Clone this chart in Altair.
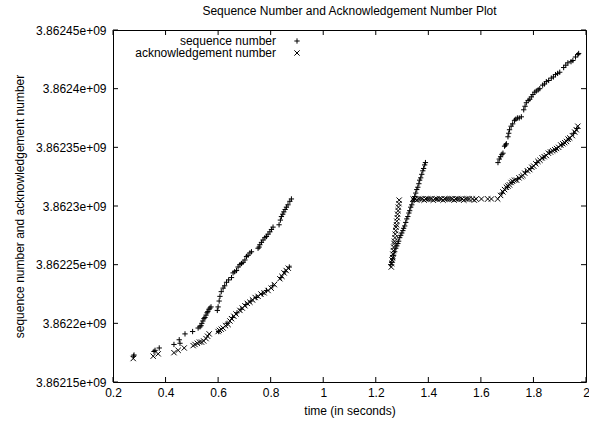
import altair as alt
import pandas as pd

# ---- data ----
seq_time = [
    0.278, 0.280, 0.356, 0.360, 0.376, 0.432, 0.452, 0.455, 0.474, 0.503, 0.524,
    0.531, 0.535, 0.538, 0.542, 0.546, 0.550, 0.554, 0.558, 0.561, 0.565, 0.569, 0.573,
    0.597, 0.600, 0.604, 0.607, 0.612, 0.619, 0.625, 0.632, 0.640, 0.651, 0.657, 0.663,
    0.670, 0.676, 0.683, 0.689, 0.695, 0.702, 0.708, 0.714, 0.721, 0.727,
    0.752, 0.756, 0.759, 0.765, 0.771, 0.778, 0.784, 0.790, 0.797, 0.803, 0.809,
    0.832, 0.837, 0.841, 0.846, 0.850, 0.855, 0.860, 0.866, 0.873, 0.879,
    0.602, 0.634, 0.655, 0.672, 0.687, 0.706, 0.725, 0.745, 0.768, 0.784, 0.808, 0.839, 0.855, 0.871,
    1.257, 1.261, 1.265, 1.268, 1.272, 1.276, 1.280, 1.284, 1.287, 1.291, 1.295, 1.299,
    1.303, 1.306, 1.310, 1.314, 1.318, 1.322, 1.326, 1.329, 1.333, 1.337, 1.341, 1.345,
    1.348, 1.352, 1.356, 1.360, 1.364, 1.367, 1.371, 1.375, 1.379, 1.382, 1.386, 1.389,
    1.665, 1.670, 1.675, 1.680, 1.684, 1.690, 1.694, 1.697, 1.703, 1.706, 1.709, 1.715, 1.721, 1.728,
    1.733, 1.739, 1.746, 1.754, 1.763, 1.768, 1.773, 1.780, 1.786, 1.792, 1.798, 1.805, 1.811,
    1.818, 1.824, 1.835, 1.842, 1.849, 1.858, 1.868, 1.876, 1.884, 1.892, 1.900, 1.915, 1.923, 1.931,
    1.943, 1.950, 1.960, 1.969, 1.972,
    1.680, 1.700, 1.718, 1.740, 1.770, 1.790, 1.813, 1.837, 1.861, 1.885, 1.908, 1.935, 1.953, 1.966,
]
seq_value = [
    3862172, 3862173, 3862176, 3862177, 3862179, 3862182, 3862186, 3862183, 3862191, 3862193, 3862196,
    3862197, 3862198, 3862200, 3862202, 3862204, 3862205, 3862207, 3862209, 3862210, 3862212, 3862213, 3862214,
    3862211, 3862214, 3862219, 3862223, 3862227, 3862230, 3862232, 3862235, 3862237, 3862239, 3862243, 3862244,
    3862245, 3862248, 3862250, 3862251, 3862252, 3862254, 3862257, 3862258, 3862260, 3862261,
    3862264, 3862265, 3862267, 3862269, 3862271, 3862273, 3862274, 3862276, 3862278, 3862280, 3862282,
    3862284, 3862288, 3862291, 3862293, 3862295, 3862297, 3862299, 3862301, 3862304, 3862306,
    3862193, 3862200, 3862205, 3862209, 3862212, 3862216, 3862219, 3862222, 3862225, 3862228, 3862232, 3862239, 3862244, 3862248,
    3862250, 3862252, 3862255, 3862258, 3862261, 3862264, 3862266, 3862268, 3862270, 3862273, 3862275, 3862277,
    3862279, 3862281, 3862283, 3862286, 3862289, 3862291, 3862294, 3862296, 3862299, 3862301, 3862304, 3862306,
    3862308, 3862311, 3862314, 3862316, 3862319, 3862322, 3862324, 3862327, 3862330, 3862332, 3862335, 3862337,
    3862337, 3862340, 3862342, 3862344, 3862345, 3862351, 3862352, 3862353, 3862359, 3862362, 3862365, 3862368, 3862370, 3862373,
    3862374, 3862375, 3862375, 3862376, 3862382, 3862385, 3862388, 3862390, 3862391, 3862393, 3862395, 3862397, 3862398,
    3862399, 3862400, 3862403, 3862404, 3862406, 3862407, 3862409, 3862410, 3862412, 3862413, 3862414, 3862418, 3862420, 3862422,
    3862423, 3862424, 3862427, 3862429, 3862430,
    3862311, 3862316, 3862320, 3862323, 3862329, 3862332, 3862337, 3862341, 3862346, 3862348, 3862352, 3862357, 3862362, 3862366,
]

ack_time = [
    0.277, 0.353, 0.372, 0.432, 0.448, 0.471, 0.505, 0.512, 0.521, 0.529, 0.537, 0.545, 0.554, 0.560, 0.566,
    0.600, 0.605, 0.612, 0.619, 0.628, 0.638, 0.645, 0.651, 0.660, 0.668, 0.683, 0.692, 0.702, 0.711, 0.721,
    0.731, 0.741, 0.752, 0.763, 0.775, 0.790, 0.802, 0.814, 0.835, 0.843, 0.851, 0.859, 0.867,
    1.259, 1.261, 1.262, 1.264, 1.265, 1.267, 1.268, 1.270, 1.271, 1.273, 1.274, 1.276, 1.277, 1.279, 1.280,
    1.282, 1.283, 1.285, 1.286, 1.288, 1.289,
    1.342, 1.349, 1.356, 1.363, 1.370, 1.377, 1.384, 1.391, 1.398, 1.405, 1.412, 1.419, 1.426, 1.433, 1.442,
    1.449, 1.456, 1.463, 1.470, 1.477, 1.484, 1.491, 1.498, 1.505, 1.512, 1.519, 1.528, 1.535, 1.542, 1.549,
    1.556, 1.568, 1.575, 1.582, 1.602, 1.626, 1.640,
    1.664, 1.675, 1.684, 1.690, 1.697, 1.703, 1.709, 1.715, 1.721, 1.728, 1.736, 1.745, 1.754, 1.760, 1.767,
    1.777, 1.786, 1.794, 1.801, 1.809, 1.817, 1.825, 1.833, 1.841, 1.849, 1.857, 1.865, 1.873, 1.881, 1.888,
    1.896, 1.904, 1.912, 1.919, 1.926, 1.932, 1.938, 1.948, 1.957, 1.963, 1.969,
]
ack_value = [
    3862170, 3862172, 3862174, 3862175, 3862177, 3862179, 3862181, 3862182, 3862183, 3862184, 3862184, 3862185, 3862187, 3862189, 3862191,
    3862193, 3862194, 3862195, 3862196, 3862198, 3862199, 3862202, 3862204, 3862206, 3862208, 3862211, 3862213, 3862215, 3862217, 3862218,
    3862220, 3862222, 3862223, 3862225, 3862226, 3862228, 3862230, 3862233, 3862238, 3862240, 3862243, 3862245, 3862247,
    3862248, 3862251, 3862254, 3862256, 3862259, 3862262, 3862265, 3862268, 3862270, 3862273, 3862276, 3862279, 3862282, 3862284, 3862287,
    3862290, 3862293, 3862296, 3862299, 3862302, 3862305,
    3862306, 3862306, 3862305, 3862306, 3862306, 3862306, 3862305, 3862306, 3862306, 3862306, 3862306, 3862305, 3862306, 3862306, 3862306,
    3862306, 3862305, 3862306, 3862306, 3862306, 3862306, 3862306, 3862305, 3862306, 3862306, 3862306, 3862306, 3862305, 3862306, 3862306,
    3862306, 3862306, 3862305, 3862306, 3862306, 3862306, 3862306,
    3862306, 3862309, 3862312, 3862314, 3862316, 3862317, 3862318, 3862320, 3862321, 3862322, 3862322, 3862324, 3862325, 3862326, 3862328,
    3862330, 3862331, 3862333, 3862334, 3862336, 3862338, 3862339, 3862341, 3862342, 3862343, 3862345, 3862346, 3862347, 3862348, 3862349,
    3862350, 3862352, 3862353, 3862354, 3862355, 3862357, 3862358, 3862360, 3862363, 3862365, 3862368,
]

series_names = ["sequence number", "acknowledgement number"]
x_ticks = [0.2, 0.4, 0.6, 0.8, 1.0, 1.2, 1.4, 1.6, 1.8, 2.0]
y_ticks = [3862150000, 3862200000, 3862250000, 3862300000, 3862350000, 3862400000, 3862450000]

# values were read in thousands
df = pd.concat([
    pd.DataFrame({"t": seq_time, "v": [v * 1000 for v in seq_value], "s": series_names[0]}),
    pd.DataFrame({"t": ack_time, "v": [v * 1000 for v in ack_value], "s": series_names[1]}),
])

W, H = 473, 352
FONT = "Liberation Sans"
xscale = alt.Scale(domain=[0.2, 2.0], nice=False, zero=False)
yscale = alt.Scale(domain=[3862150000, 3862450000], nice=False, zero=False)

plus_path = "M-1,0L1,0M0,-1L0,1"
cross_path = "M-1,-1L1,1M-1,1L1,-1"

points = alt.Chart(df).mark_point(filled=False, strokeWidth=1, size=28, opacity=1).encode(
    x=alt.X("t:Q", scale=xscale,
            axis=alt.Axis(values=x_ticks, title="time (in seconds)", grid=False, domain=False,
                          ticks=False, tickSize=0, labelPadding=5, labelFont=FONT, labelFontSize=12,
                          labelColor="black", labelFlush=False, labelOverlap=False,
                          titleFont=FONT, titleFontSize=12, titleFontWeight="normal",
                          titleColor="black", titlePadding=7, labelExpr="format(datum.value, '~g')")),
    y=alt.Y("v:Q", scale=yscale,
            axis=alt.Axis(values=y_ticks, title="sequence number and acknowledgement number", grid=False,
                          domain=False, ticks=False, tickSize=0, labelPadding=7, labelFont=FONT,
                          labelFontSize=12, labelColor="black", labelFlush=False, labelOverlap=False,
                          titleFont=FONT, titleFontSize=12,
                          titleFontWeight="normal", titleColor="black", titlePadding=9,
                          labelExpr="replace(format(datum.value, '.6~e'), 'e+9', 'e+09')")),
    shape=alt.Shape("s:N", scale=alt.Scale(domain=series_names, range=[plus_path, cross_path]),
                    legend=alt.Legend(title=None, orient="none", legendX=178, legendY=5, padding=0,
                                      labelAlign="right", labelOffset={"expr": "-27"}, labelFont=FONT,
                                      labelFontSize=12, labelColor="black", symbolSize=28,
                                      symbolStrokeColor="black", symbolFillColor="transparent",
                                      symbolStrokeWidth=1, rowPadding=0, symbolOpacity=1)),
    color=alt.value("black"),
)

xt = pd.DataFrame({"t": x_ticks})
yt = pd.DataFrame({"v": y_ticks})
tick_bottom = alt.Chart(xt).mark_rule(color="black", strokeWidth=1).encode(
    x=alt.X("t:Q", scale=xscale), y=alt.value(H), y2=alt.value(H - 5))
tick_top = alt.Chart(xt).mark_rule(color="black", strokeWidth=1).encode(
    x=alt.X("t:Q", scale=xscale), y=alt.value(0), y2=alt.value(5))
tick_left = alt.Chart(yt).mark_rule(color="black", strokeWidth=1).encode(
    y=alt.Y("v:Q", scale=yscale), x=alt.value(0), x2=alt.value(5))
tick_right = alt.Chart(yt).mark_rule(color="black", strokeWidth=1).encode(
    y=alt.Y("v:Q", scale=yscale), x=alt.value(W), x2=alt.value(W - 5))

chart = alt.layer(points, tick_bottom, tick_top, tick_left, tick_right).properties(
    width=W, height=H,
    title=alt.Title("Sequence Number and Acknowledgement Number Plot", font=FONT, fontSize=12,
                    fontWeight="normal", color="black", anchor="middle", frame="group", offset=6),
    autosize=alt.AutoSizeParams(type="none"),
    padding={"left": 113, "top": 30, "right": 3, "bottom": 41},
    background="white",
).configure_view(stroke="black", strokeWidth=1)

chart.save("out.html", embed_options={"renderer": "svg", "actions": False})
